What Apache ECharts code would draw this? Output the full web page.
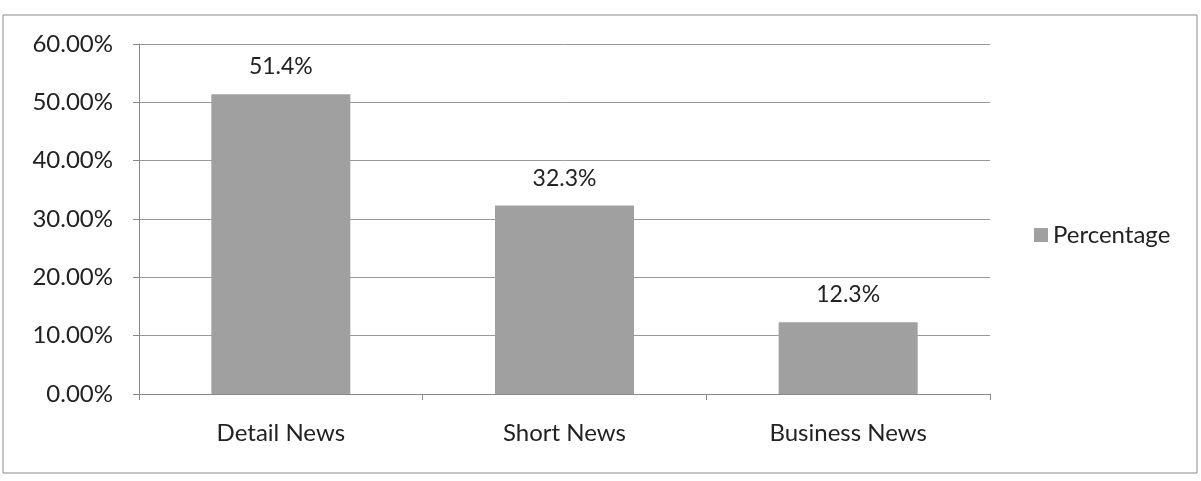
<!DOCTYPE html>
<html>
<head>
<meta charset="utf-8">
<script src="https://cdn.jsdelivr.net/npm/echarts@6/dist/echarts.min.js"></script>
<style>
  html, body { margin: 0; padding: 0; background: #fff; }
  #chart { width: 1201px; height: 481px; }
</style>
</head>
<body>
<div id="chart"></div>
<script>
// chart data
const categories = ['Detail News', 'Short News', 'Business News']
const percentages = [51.4, 32.3, 12.3]
const seriesName = 'Percentage'
const yTicks = [0, 10, 20, 30, 40, 50, 60]

const font = 'Lato, "Open Sans", sans-serif'
const chart = echarts.init(document.getElementById('chart'))

chart.setOption({
  backgroundColor: '#fff',
  animation: false,
  graphic: [{
    type: 'rect',
    shape: { x: 3, y: 15, width: 1194, height: 458 },
    style: { fill: 'none', stroke: '#8a8a8a', lineWidth: 1 }
  }],
  legend: {
    data: [seriesName],
    orient: 'vertical',
    left: 1029,
    top: 218,
    icon: 'rect',
    itemWidth: 14,
    itemHeight: 14,
    itemGap: 8,
    textStyle: { fontFamily: font, fontSize: 24, color: '#222' }
  },
  grid: {
    left: 139,
    right: 211,
    top: 44,
    bottom: 87
  },
  xAxis: {
    type: 'category',
    data: categories,
    axisLine: { lineStyle: { color: '#888', width: 1 } },
    axisTick: { show: true, length: 6, lineStyle: { color: '#888' } },
    axisLabel: {
      fontFamily: font,
      fontSize: 24,
      color: '#222',
      margin: 27
    }
  },
  yAxis: {
    type: 'value',
    min: yTicks[0],
    max: yTicks[yTicks.length - 1],
    interval: 10,
    axisLine: { show: true, lineStyle: { color: '#888', width: 1 } },
    axisTick: { show: true, length: 6, lineStyle: { color: '#888' } },
    splitLine: { lineStyle: { color: '#999', width: 1 } },
    axisLabel: {
      fontFamily: font,
      fontSize: 24,
      color: '#222',
      margin: 26,
      formatter: v => v.toFixed(2) + '%'
    }
  },
  series: [{
    name: seriesName,
    type: 'bar',
    data: percentages,
    barWidth: '49%',
    itemStyle: { color: '#a0a0a0' },
    label: {
      show: true,
      position: 'top',
      distance: 16,
      fontFamily: font,
      fontSize: 23,
      color: '#222',
      formatter: p => p.value.toFixed(1) + '%'
    }
  }]
})
</script>
</body>
</html>
